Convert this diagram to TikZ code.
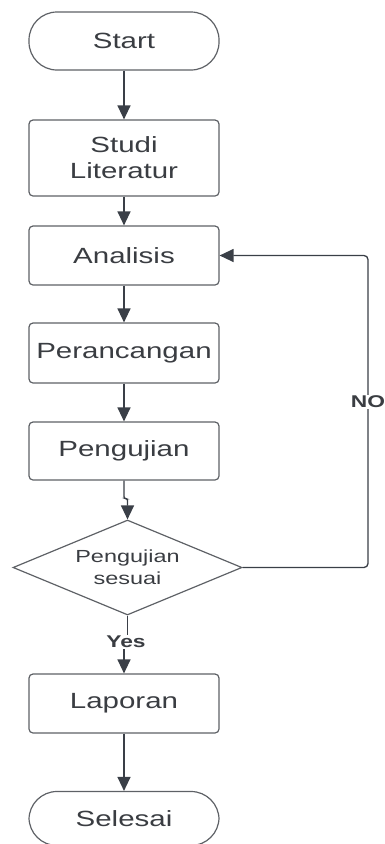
\documentclass[tikz,border=0pt]{standalone}
\usepackage{fontspec}
\setmainfont{Liberation Sans}[FakeStretch=1.34]
\usetikzlibrary{shapes.geometric,arrows.meta}
\definecolor{linec}{HTML}{3A3F47}
\definecolor{boxc}{HTML}{5E6166}
\definecolor{textc}{HTML}{3A3D42}
\begin{document}
\begin{tikzpicture}[x=1pt,y=-1pt,
  every node/.style={text=textc},
  procbox/.style={draw=boxc,line width=1.2pt,rounded corners=4pt,minimum width=190pt,inner sep=0pt,align=center,font=\fontsize{22}{26}\selectfont},
  termbox/.style={draw=boxc,line width=1.2pt,rounded corners=28pt,minimum width=190pt,inner sep=0pt,align=center,font=\fontsize{22}{26}\selectfont},
  decbox/.style={draw=boxc,line width=1.2pt,shape=diamond,aspect=2.41,minimum width=229pt,minimum height=95pt,inner sep=0pt,align=center,font=\fontsize{17.5}{22}\selectfont},
  lbl/.style={fill=white,inner sep=1pt,font=\bfseries\fontsize{17}{20}\selectfont},
  flow/.style={draw=linec,line width=1.3pt,-{Triangle[length=14pt,width=13pt]}}
]
\useasboundingbox (0,0) rectangle (384,844);
\node[termbox,minimum height=58pt] (start) at (124,41) {Start};
\node[procbox,minimum height=76pt] (studi) at (124,158) {Studi\\Literatur};
\node[procbox,minimum height=59pt] (analisis) at (124,255.5) {Analisis};
\node[procbox,minimum height=60pt] (peran) at (124,353) {Perancangan};
\node[procbox,minimum height=58pt] (uji) at (124,451) {Pengujian};
\node[decbox] (dec) at (127.5,567.5) {Pengujian\\sesuai};
\node[procbox,minimum height=59pt] (lap) at (124,703.5) {Laporan};
\node[termbox,minimum height=54pt] (sel) at (124,818.5) {Selesai};
\coordinate (yesc) at (126,642);
\coordinate (nox) at (368,402);

\draw[flow] (start) -- (studi);
\draw[flow] (studi) -- (analisis);
\draw[flow] (analisis) -- (peran);
\draw[flow] (peran) -- (uji);
\draw[flow,rounded corners=2pt] (uji.south) -- ++(0,18) -| (dec.north);
\draw[flow] (dec.south) -- (dec.south |- yesc) -- (lap.north |- yesc) -- (lap.north);
\draw[flow] (lap) -- (sel);
\draw[flow,rounded corners=4pt] (dec.east) -| (nox) |- (analisis.east);
\node[lbl] (yes) at (yesc) {Yes};
\node[lbl] (no) at (nox) {NO};
\end{tikzpicture}
\end{document}
